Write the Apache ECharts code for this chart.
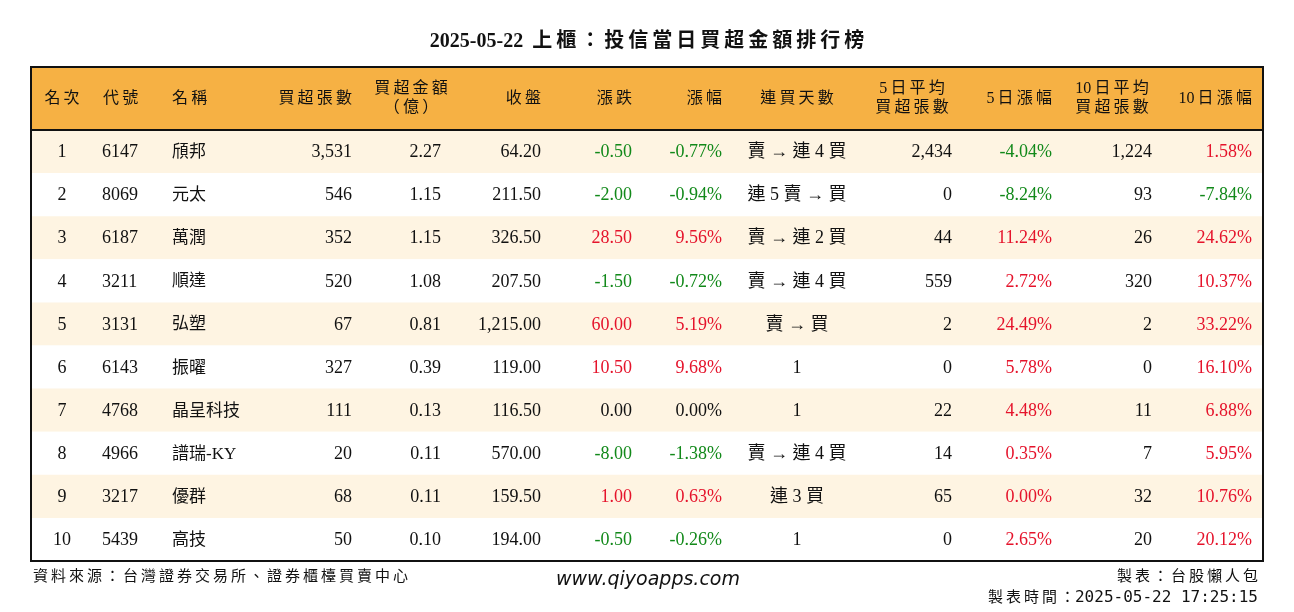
<!DOCTYPE html>
<html><head><meta charset="utf-8">
<script src="https://cdn.jsdelivr.net/npm/echarts@6/dist/echarts.min.js"></script>
<style>html,body{margin:0;padding:0;background:#fff}#c{width:1294px;height:612px}</style>
</head><body><div id="c"></div>
<script>
const title = "2025-05-22 上櫃：投信當日買超金額排行榜";
const headers = ["名次","代號","名稱","買超張數","買超金額\n（億）","收盤","漲跌","漲幅","連買天數","5日平均\n買超張數","5日漲幅","10日平均\n買超張數","10日漲幅"];
const ranks = ["1","2","3","4","5","6","7","8","9","10"];
const codes = ["6147","8069","6187","3211","3131","6143","4768","4966","3217","5439"];
const names = ["頎邦","元太","萬潤","順達","弘塑","振曜","晶呈科技","譜瑞-KY","優群","高技"];
const buyLots = ["3,531","546","352","520","67","327","111","20","68","50"];
const buyAmt = ["2.27","1.15","1.15","1.08","0.81","0.39","0.13","0.11","0.11","0.10"];
const closes = ["64.20","211.50","326.50","207.50","1,215.00","119.00","116.50","570.00","159.50","194.00"];
const changes = ["-0.50","-2.00","28.50","-1.50","60.00","10.50","0.00","-8.00","1.00","-0.50"];
const changePct = ["-0.77%","-0.94%","9.56%","-0.72%","5.19%","9.68%","0.00%","-1.38%","0.63%","-0.26%"];
const streak = ["賣 → 連 4 買","連 5 賣 → 買","賣 → 連 2 買","賣 → 連 4 買","賣 → 買","1","1","賣 → 連 4 買","連 3 買","1"];
const avg5 = ["2,434","0","44","559","2","0","22","14","65","0"];
const pct5 = ["-4.04%","-8.24%","11.24%","2.72%","24.49%","5.78%","4.48%","0.35%","0.00%","2.65%"];
const avg10 = ["1,224","93","26","320","2","0","11","7","32","20"];
const pct10 = ["1.58%","-7.84%","24.62%","10.37%","33.22%","16.10%","6.88%","5.95%","10.76%","20.12%"];
const footLeft = "資料來源：台灣證券交易所、證券櫃檯買賣中心";
const footCenter = "www.qiyoapps.com";
const footRight1 = "製表：台股懶人包";
const footRight2Label = "製表時間：";
const footRight2Time = "2025-05-22 17:25:15";

const columns = [ranks,codes,names,buyLots,buyAmt,closes,changes,changePct,streak,avg5,pct5,avg10,pct10];
// layout
const L=31,R=1263,T=67,HH=63,RH=43.1;
const colX=[62,102,172,352,441,541,632,722,797,952,1052,1152,1252];
const colAlign=['center','left','left','right','right','right','right','right','center','right','right','right','right'];
const hX=[62,103,172,352,411,541,632,722,797,912,1052,1112,1252];
const hAlign=['center','left','left','right','center','right','right','right','center','center','right','center','right'];
const colored=[6,7,10,12];
const FONT='"Liberation Serif","Noto Sans CJK TC",serif';
const RED='#e5132b', GREEN='#12891a';
function isCJK(c){return c && c.charCodeAt(0)>0x2E80;}
function sp(s){
  let out='';const ch=[...s];
  for(let i=0;i<ch.length;i++){
    out+=ch[i];
    const n=ch[i+1];
    if(n && n!=='\n' && ch[i]!=='\n' && (isCJK(ch[i]) || isCJK(n))) out+='\u2009';
  }
  return out;
}
function colorOf(ci,v){
  if(!colored.includes(ci)) return '#111';
  const n=parseFloat(v.replace(/[,%]/g,''));
  if(n>0) return RED; if(n<0) return GREEN;
  return (ci===10||ci===12)?RED:'#111';
}
const g=[];
g.push({type:'rect',shape:{x:L,y:T,width:R-L,height:HH},style:{fill:'#f6b144'}});
for(let r=0;r<ranks.length;r++){
  g.push({type:'rect',shape:{x:L,y:T+HH+r*RH,width:R-L,height:RH},style:{fill:r%2===0?'#fef4e2':'#ffffff'}});
}
headers.forEach((h,i)=>{
  g.push({type:'text',x:hX[i],y:T+HH/2,style:{text:sp(h),align:hAlign[i],verticalAlign:'middle',font:'16px '+FONT,fill:'#111',lineHeight:19}});
});
columns.forEach((col,ci)=>{
  col.forEach((v,r)=>{
    g.push({type:'text',x:colX[ci],y:T+HH+r*RH+RH/2+1,style:{text:v,align:colAlign[ci],verticalAlign:'middle',font:(ci===2?'17px ':'18px ')+FONT,fill:colorOf(ci,v)}});
  });
});
g.push({type:'line',shape:{x1:L,y1:T+HH,x2:R,y2:T+HH},style:{stroke:'#111',lineWidth:2}});
g.push({type:'rect',shape:{x:L,y:T,width:R-L,height:HH+RH*ranks.length},style:{fill:'none',stroke:'#111',lineWidth:2}});
g.push({type:'text',x:647,y:42,style:{text:sp(title),align:'center',verticalAlign:'middle',font:'bold 20px '+FONT,fill:'#111'}});
g.push({type:'text',x:33,y:577,style:{text:sp(footLeft),align:'left',verticalAlign:'middle',font:'15px '+FONT,fill:'#111'}});
g.push({type:'text',x:648,y:580,style:{text:footCenter,align:'center',verticalAlign:'middle',font:'italic 19px "DejaVu Sans",sans-serif',fill:'#111'}});
g.push({type:'text',x:1258,y:577,style:{text:sp(footRight1),align:'right',verticalAlign:'middle',font:'15px '+FONT,fill:'#111'}});
g.push({type:'text',x:1258,y:598,style:{text:'{a|'+sp(footRight2Label)+'}{b|'+footRight2Time+'}',align:'right',verticalAlign:'middle',
  rich:{a:{font:'15px '+FONT,fill:'#111'},b:{font:'16px "DejaVu Sans Mono","Liberation Mono",monospace',fill:'#111'}}}});
const chart=echarts.init(document.getElementById('c'));
chart.setOption({animation:false,graphic:{elements:g}});
</script></body></html>
